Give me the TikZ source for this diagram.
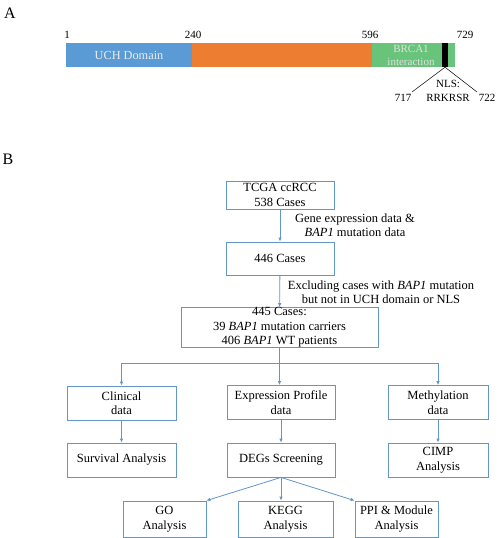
\documentclass[tikz,border=0pt]{standalone}
\usepackage{fontspec}
\setmainfont{Liberation Serif}
\usetikzlibrary{arrows.meta, positioning, calc}
\definecolor{uchblue}{RGB}{91, 155, 213}
\definecolor{midorange}{RGB}{237, 125, 49}
\definecolor{brcagreen}{RGB}{104, 196, 122}
\definecolor{flowblue}{RGB}{96, 150, 200}

\begin{document}
\begin{tikzpicture}[
    x=1pt, y=-1pt,
    >={Latex[length=4pt, width=3.5pt]},
    seg/.style={rectangle, inner sep=0, minimum height=24, font=\fontsize{12.3}{13}\selectfont},
    box/.style={rectangle, draw=flowblue, line width=0.8pt, inner sep=0, align=center, minimum height=34, font=\fontsize{12.5}{14.5}\selectfont},
    note/.style={align=center, font=\fontsize{12.5}{14}\selectfont},
    posnum/.style={font=\fontsize{11}{12}\selectfont},
    arrow/.style={->, flowblue, line width=0.8pt},
    link/.style={flowblue, line width=0.8pt}
]
\useasboundingbox (0,0) rectangle (498,538);

% === Panel A: dominios de BAP1 ===
\node[font=\fontsize{16}{16}\selectfont] (lblA) at (10,13) {A};

\node[seg, fill=uchblue, minimum width=126, text=white!92!black] (uch) at (129,55) {UCH Domain};
\node[seg, fill=midorange, minimum width=180] (mid) at (282,55) {};
\node[seg, fill=brcagreen, minimum width=83] (brca) at (413.5,55) {};
\node[align=center, text=white!88!black, font=\fontsize{11}{13}\selectfont] (brcatxt) at (411,55) {BRCA1\\interaction};
\node[seg, fill=black, minimum width=6] (nls) at (445,55) {};

% Posiciones
\node[posnum] (p1) at (67,35) {1};
\node[posnum] (p240) at (193,35) {240};
\node[posnum] (p596) at (370,35) {596};
\node[posnum] (p729) at (465,35) {729};

% NLS
\coordinate (nlsl) at (412,92);
\coordinate (nlsr) at (477,92);
\draw[line width=0.5pt] (nls.south) -- (nlsl);
\draw[line width=0.5pt] (nls.south) -- (nlsr);
\node[align=center, font=\fontsize{11}{13.5}\selectfont] (nlstxt) at (448,91) {NLS:\\RRKRSR};
\node[posnum] (p717) at (403,98) {717};
\node[posnum] (p722) at (487,98) {722};

% === Panel B: diagrama de flujo ===
\node[font=\fontsize{16}{16}\selectfont] (lblB) at (8,159) {B};

\node[box, minimum width=108, minimum height=28] (tcga) at (280,195) {TCGA ccRCC\\538 Cases};
\node[box, minimum width=108, minimum height=33] (c446) at (280,258.5) {446 Cases};
\node[box, minimum width=197, minimum height=39] (c445) at (279.5,327.5)
    {445 Cases:\\39 \textit{BAP1} mutation carriers\\406 \textit{BAP1} WT patients};

\draw[arrow] (tcga) -- (c446);
\draw[arrow] (c446) -- (c445);

\node[note] (gene) at (355,225) {Gene expression data \&\\\textit{BAP1} mutation data};
\node[note] (excl) at (381,292.5) {Excluding cases with \textit{BAP1} mutation\\but not in UCH domain or NLS};

% Ramas
\node[box, minimum width=109] (clin) at (121.5,403) {Clinical\\data};
\node[box, minimum width=108] (expr) at (281,402.5) {Expression Profile\\data};
\node[box, minimum width=100] (meth) at (438,402.5) {Methylation\\data};

\coordinate (bl) at (clin.north |- 0,363);
\coordinate (bm) at (c445.south |- 0,363);
\coordinate (br) at (meth.north |- 0,363);
\draw[link] (c445.south) -- (bm);
\draw[link] (bl) -- (br);
\draw[arrow] (bl) -- (clin.north);
\draw[arrow] (bm) -- (bm |- expr.north);
\draw[arrow] (br) -- (meth.north);

\node[box, minimum width=109] (surv) at (121.5,460) {Survival Analysis};
\node[box, minimum width=108] (degs) at (281,460) {DEGs Screening};
\node[box, minimum width=100] (cimp) at (438,460) {CIMP\\Analysis};

\draw[arrow] (clin) -- (surv);
\draw[arrow] (expr) -- (degs);
\draw[arrow] (meth) -- (cimp);

% Analisis de DEGs
\node[box, minimum width=83, minimum height=36] (go) at (164.5,519) {GO\\Analysis};
\node[box, minimum width=95, minimum height=36] (kegg) at (285.5,519) {KEGG\\Analysis};
\node[box, minimum width=83, minimum height=36] (ppi) at (396.5,519) {PPI \& Module\\Analysis};

\draw[arrow] (degs.south) -- (go.north east);
\draw[arrow] (degs.south) -- (degs.south |- kegg.north);
\draw[arrow] (degs.south) -- (ppi.north west);

\end{tikzpicture}
\end{document}
